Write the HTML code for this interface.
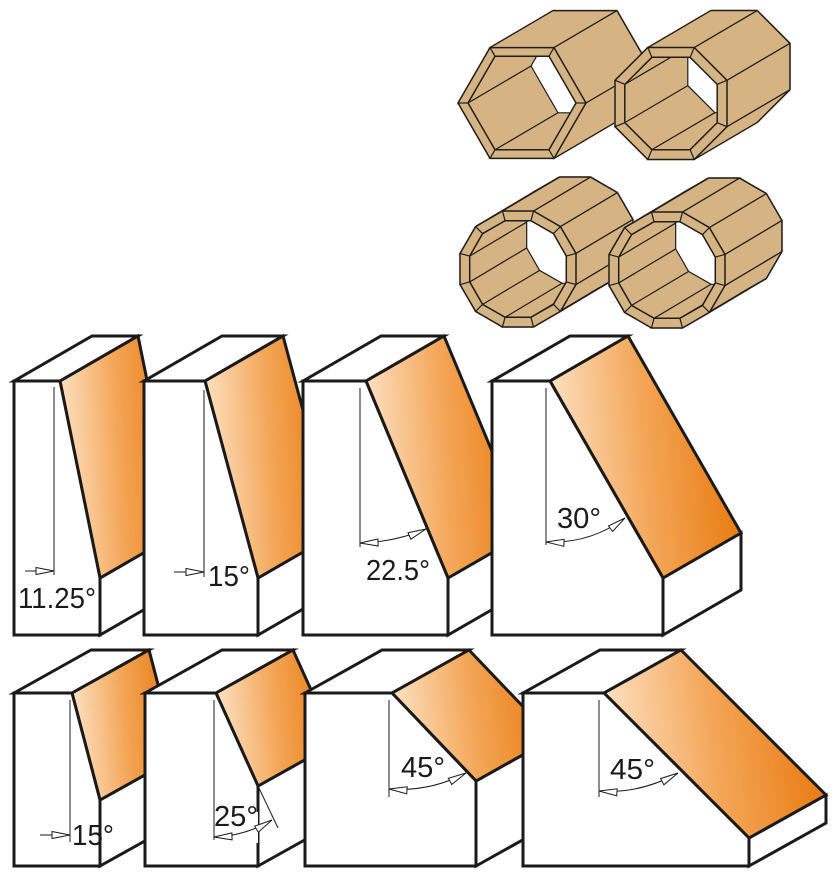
<!DOCTYPE html>
<html><head><meta charset="utf-8"><style>
html,body{margin:0;padding:0;background:#fff;}
svg{display:block;}
text{font-family:"Liberation Sans",sans-serif;font-size:29px;fill:#1a1a1a;}
</style></head><body>
<svg id="s" width="832" height="879" viewBox="0 0 832 879" xmlns="http://www.w3.org/2000/svg">
<defs>
<linearGradient id="g" x1="0" y1="0.55" x2="1" y2="0.45">
<stop offset="0" stop-color="#fde4c8"/><stop offset="0.5" stop-color="#f4a658"/><stop offset="1" stop-color="#e8780c"/>
</linearGradient>
</defs>
<g id="tubes"></g>
<g id="blocks" stroke="#1a1a1a" stroke-width="3" stroke-linejoin="miter"></g>
<g id="ann" stroke="#1a1a1a" stroke-width="1" fill="none"></g>
<text x="18" y="608" textLength="78" lengthAdjust="spacingAndGlyphs">11.25°</text>
<text x="208" y="586" textLength="42" lengthAdjust="spacingAndGlyphs">15°</text>
<text x="366" y="580" textLength="64" lengthAdjust="spacingAndGlyphs">22.5°</text>
<text x="557" y="528" textLength="44" lengthAdjust="spacingAndGlyphs">30°</text>
<text x="72" y="845" textLength="42" lengthAdjust="spacingAndGlyphs">15°</text>
<text x="214" y="826" textLength="44" lengthAdjust="spacingAndGlyphs">25°</text>
<text x="401" y="777" textLength="44" lengthAdjust="spacingAndGlyphs">45°</text>
<text x="610" y="779" textLength="45" lengthAdjust="spacingAndGlyphs">45°</text>
</svg>
<script>
var NS="http://www.w3.org/2000/svg";
function el(p,t,a){var e=document.createElementNS(NS,t);for(var k in a)e.setAttribute(k,a[k]);p.appendChild(e);return e;}
function pts(a){return a.map(function(p){return p[0].toFixed(1)+","+p[1].toFixed(1)}).join(" ");}
var B=document.getElementById("blocks");
function block(L,T,Bt,cor,Cx,Cy,dx,dy,gap){
 el(B,"polygon",{points:pts([[L,T],[L+dx,T+dy],[cor+dx,T+dy],[cor,T]]),fill:"#fff"});
 el(B,"polygon",{points:pts([[Cx,Cy],[Cx+dx,Cy+dy],[Cx+dx,Bt+dy],[Cx,Bt]]),fill:"#fff"});
 el(B,"polygon",{points:pts([[cor,T],[cor+dx,T+dy],[Cx+dx,Cy+dy],[Cx,Cy]]),fill:"url(#g)"});
 if(gap){
  el(B,"polygon",{points:pts([[L,T],[cor,T],[Cx,Cy],[Cx,Bt],[L,Bt]]),fill:"#fff",stroke:"none"});
  el(B,"polyline",{points:pts([[Cx,gap[0]],[Cx,Cy],[cor,T],[L,T],[L,Bt],[Cx,Bt],[Cx,gap[1]]]),fill:"none"});
 } else
 el(B,"polygon",{points:pts([[L,T],[cor,T],[Cx,Cy],[Cx,Bt],[L,Bt]]),fill:"#fff"});
}
block(14,381,635,60,100,578,78,-45);
block(144,381,635,205,258,578,78,-45);
block(303,381,635,366,448,578,78,-45);
block(492,381,635,550,663,578,78,-45);
block(14,693,866,72,100,800,77,-43);
block(145,693,866,216,258,786,77,-43,[812,843]);
block(305,693,866,392,476,781,77,-43);
block(523,693,866,604,749,838,77,-43);

var A=document.getElementById("ann");
function ln(x1,y1,x2,y2){el(A,"line",{x1:x1,y1:y1,x2:x2,y2:y2});}
function head(x,y,ang){
 var c=Math.cos(ang),s=Math.sin(ang),L=18,W=3.5;
 var bx=x-c*L,by=y-s*L;
 el(A,"polygon",{points:pts([[x,y],[bx-s*W,by+c*W],[bx+s*W,by-c*W]]),fill:"#fff"});
}
function arc(x1,y1,x2,y2,cx,cy){
 el(A,"path",{d:"M"+x1+" "+y1+" Q"+cx+" "+cy+" "+x2+" "+y2});
 head(x1,y1,Math.atan2(y1-cy,x1-cx));head(x2,y2,Math.atan2(y2-cy,x2-cx));
}
ln(54,387,54,575);ln(25,571,54,571);head(54,571,0);
ln(204,390,204,577);ln(174,572,204,572);head(204,572,0);
ln(360,388,360,547);arc(360,543,426,529,395,542);
ln(546,388,546,545);arc(546,542,625,518,590,544);
ln(70,700,70,842);ln(40,835,70,835);head(70,835,0);
ln(214,700,214,840);arc(214,837,272,820,245,836);ln(258,786,278,828);
ln(389,700,389,797);arc(389,789,466,773,430,792);
ln(599,700,599,797);arc(599,791,678,773,640,794);

var TG=document.getElementById("tubes");
var TAN="#d6b383",DK="#1e1e1e";
function poly(n,cx,cy,R,rot){var a=[];for(var i=0;i<n;i++){var t=rot+i*2*Math.PI/n;a.push([cx+R*Math.cos(t),cy+R*Math.sin(t)]);}return a;}
var cid=0;
function tube(n,cx,cy,R,r,rot,ox,oy){
 var g=el(TG,"g",{});
 var F=poly(n,cx,cy,R,rot),Bk=F.map(function(p){return[p[0]+ox,p[1]+oy]});
 var fi=poly(n,cx,cy,r,rot),bi=fi.map(function(p){return[p[0]+ox,p[1]+oy]});
 var ol=Math.hypot(ox,oy),ux=ox/ol,uy=oy/ol;
 el(g,"polygon",{points:pts(Bk),fill:TAN,stroke:TAN,"stroke-width":1});
 for(var i=0;i<n;i++){var j=(i+1)%n;
  el(g,"polygon",{points:pts([F[i],F[j],Bk[j],Bk[i]]),fill:TAN,stroke:TAN,"stroke-width":1.5});}
 for(var i=0;i<n;i++){var j=(i+1)%n;
  var di=(F[i][0]-cx)*ux+(F[i][1]-cy)*uy, dj=(F[j][0]-cx)*ux+(F[j][1]-cy)*uy;
  var pi=-(F[i][0]-cx)*uy+(F[i][1]-cy)*ux;
  if(di>-0.5*R*0.5 || Math.abs(pi)>R*0.85) el(g,"line",{x1:F[i][0],y1:F[i][1],x2:Bk[i][0],y2:Bk[i][1],stroke:DK,"stroke-width":1.3});
  if(di>-R*0.3&&dj>-R*0.3) el(g,"line",{x1:Bk[i][0],y1:Bk[i][1],x2:Bk[j][0],y2:Bk[j][1],stroke:DK,"stroke-width":1.5});
 }
 el(g,"polygon",{points:pts(F),fill:TAN,stroke:DK,"stroke-width":1.5});
 el(g,"polygon",{points:pts(fi),fill:TAN});
 var id="c"+(cid++);
 var cp=el(el(g,"defs",{}),"clipPath",{id:id});el(cp,"polygon",{points:pts(fi)});
 var ig=el(g,"g",{"clip-path":"url(#"+id+")"});
 for(var i=0;i<n;i++){var d=(fi[i][0]-cx)*ux+(fi[i][1]-cy)*uy;
  if(d<r*0.3) el(ig,"line",{x1:fi[i][0],y1:fi[i][1],x2:bi[i][0],y2:bi[i][1],stroke:DK,"stroke-width":1.2});}
 el(ig,"polygon",{points:pts(bi),fill:"#fff",stroke:DK,"stroke-width":1.2});
 el(g,"polygon",{points:pts(fi),fill:"none",stroke:DK,"stroke-width":1.5});
 for(var i=0;i<n;i++) el(g,"line",{x1:F[i][0],y1:F[i][1],x2:fi[i][0],y2:fi[i][1],stroke:DK,"stroke-width":1.2});
}
tube(6,522,103,64,54,0,63,-37);
tube(8,671,103.5,60.6,50,Math.PI/8,63,-37);
tube(12,518,269,60,50,Math.PI/12,57,-34);
tube(12,667,270,60,50,Math.PI/12,57,-34);
</script>
</body></html>
